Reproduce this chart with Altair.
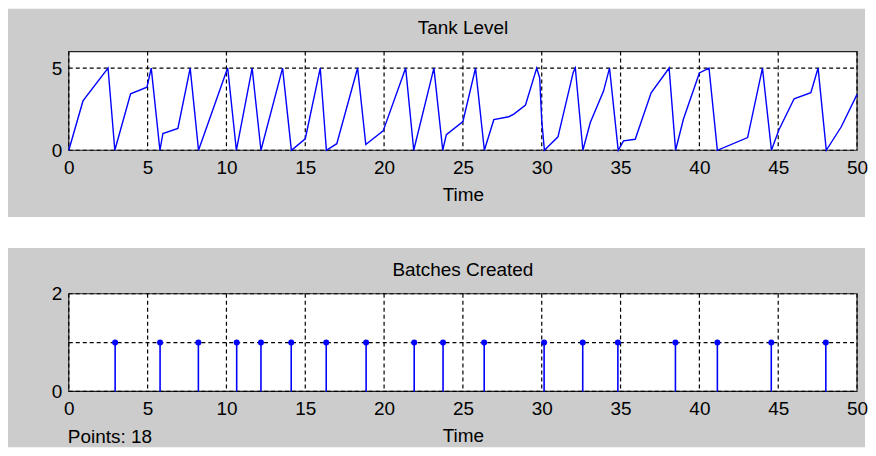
import altair as alt
import pandas as pd

# ---- data ----
tank_time = [0.0, 0.9, 2.49, 2.92, 3.92, 4.96, 5.23, 5.78, 5.97, 6.92, 7.7, 8.23,
             10.0, 10.08, 10.63, 11.63, 12.19, 13.56, 14.12, 15.0, 15.95, 16.34,
             17.0, 18.32, 18.84, 19.94, 21.37, 21.88, 23.16, 23.72, 23.95, 25.0,
             25.8, 26.36, 26.96, 27.91, 28.23, 28.97, 29.68, 29.87, 30.0, 30.17,
             31.03, 32.0, 32.13, 32.61, 33.08, 33.92, 34.3, 34.85, 35.19, 35.93,
             36.94, 38.08, 38.49, 38.99, 40.0, 40.61, 41.14, 43.06, 44.0, 44.57,
             45.04, 46.01, 47.07, 47.53, 48.05, 49.0, 50.0]
tank_level = [0.0, 3.0, 5.0, 0.0, 3.43, 3.84, 5.0, 0.0, 1.02, 1.33, 5.0, 0.0,
              4.8, 5.0, 0.0, 5.0, 0.0, 5.0, 0.0, 0.7, 5.0, 0.0,
              0.4, 5.0, 0.35, 1.18, 5.0, 0.0, 5.0, 0.0, 0.95, 1.75,
              5.0, 0.0, 1.86, 2.04, 2.2, 2.75, 5.0, 4.4, 1.8, 0.0,
              0.82, 4.75, 5.0, 0.0, 1.69, 3.6, 5.0, 0.0, 0.57, 0.67,
              3.5, 5.0, 0.0, 1.9, 4.7, 5.0, 0.0, 0.77, 5.0, 0.0,
              1.23, 3.13, 3.5, 5.0, 0.0, 1.43, 3.4]

batch_time = [2.94, 5.79, 8.22, 10.65, 12.19, 14.11, 16.33, 18.86, 21.91, 23.74,
              26.35, 30.15, 32.6, 34.83, 38.48, 41.14, 44.56, 48.02]
batch_count = [1, 1, 1, 1, 1, 1, 1, 1, 1, 1, 1, 1, 1, 1, 1, 1, 1, 1]

x_ticks = [0, 5, 10, 15, 20, 25, 30, 35, 40, 45, 50]
tank_y_ticks = [0, 5]
batch_y_ticks = [0, 1, 2]

# ---- style ----
W = 791
H1 = 99
H2 = 98
FONT = "Liberation Sans"
FS = 19
PANEL = "#cccccc"
BLUE = "#0000ff"
LEFT = -61
RIGHT = 799

one = pd.DataFrame({"k": [0]})


def axis_x():
    return alt.Axis(values=x_ticks, labelFont=FONT, labelFontSize=FS, labelColor="black",
                    titleFont=FONT, titleFontSize=FS, titleFontWeight="normal",
                    titleColor="black", domain=False, ticks=False, grid=False,
                    labelPadding=8, titlePadding=8, labelFlush=False, format="d", zindex=1)


def axis_y(vals):
    return alt.Axis(values=vals, labelFont=FONT, labelFontSize=FS, labelColor="black",
                    title=None, domain=False, ticks=False, grid=False, format="d",
                    labelPadding=7, zindex=1)


def panel(title, H, ydom, yticks, gray_top, gray_bottom, main_layers, extra=None):
    xenc = alt.X("time:Q", scale=alt.Scale(domain=[0, 50], nice=False, zero=False),
                 axis=axis_x(), title="Time")
    yenc = alt.Y("value:Q", scale=alt.Scale(domain=ydom, nice=False), axis=axis_y(yticks))

    gray = alt.Chart(one).mark_rect(fill=PANEL).encode(
        x=alt.value(LEFT), x2=alt.value(RIGHT), y=alt.value(gray_top), y2=alt.value(gray_bottom))
    box = alt.Chart(one).mark_rect(fill="white", stroke="#222222", strokeWidth=1.2).encode(
        x=alt.value(0), x2=alt.value(W), y=alt.value(0), y2=alt.value(H))
    xgrid = alt.Chart(pd.DataFrame({"time": x_ticks})).mark_rule(
        color="black", strokeWidth=1.2, strokeDash=[4, 3]).encode(
        x=xenc, y=alt.value(0), y2=alt.value(H))
    ygrid = alt.Chart(pd.DataFrame({"value": yticks})).mark_rule(
        color="black", strokeWidth=1.2, strokeDash=[4, 3]).encode(
        y=yenc, x=alt.value(0), x2=alt.value(W))
    title_text = alt.Chart(pd.DataFrame({"label": [title]})).mark_text(
        align="center", baseline="middle", font=FONT, fontSize=FS, color="black").encode(
        text="label:N", x=alt.value(W / 2), y=alt.value(-24))

    layers = [gray, box, xgrid, ygrid] + main_layers(xenc, yenc) + [title_text]
    if extra is not None:
        layers.append(extra)
    return alt.layer(*layers).properties(width=W, height=H)


tank_df = pd.DataFrame({"time": tank_time, "value": tank_level})
batch_df = pd.DataFrame({"time": batch_time, "value": batch_count})


def tank_layers(xenc, yenc):
    return [alt.Chart(tank_df).mark_line(color=BLUE, strokeWidth=1.4).encode(x=xenc, y=yenc)]


def batch_layers(xenc, yenc):
    stems = alt.Chart(batch_df).mark_rule(color=BLUE, strokeWidth=1.6).encode(
        x=xenc, y=yenc, y2=alt.datum(0))
    heads = alt.Chart(batch_df).mark_point(filled=True, size=36, color=BLUE, opacity=1).encode(
        x=xenc, y=yenc)
    return [stems, heads]


points_df = pd.DataFrame({"label": [f"Points: {len(batch_time)}"]})
points_text = alt.Chart(points_df).mark_text(
    align="left", baseline="middle", font=FONT, fontSize=FS, color="black").encode(
    text="label:N", x=alt.value(-1), y=alt.value(H2 + 46))

top = panel("Tank Level", H1, [0, 6], tank_y_ticks, -43, 166, tank_layers)
bottom = panel("Batches Created", H2, [0, 2], batch_y_ticks, -46, 154, batch_layers, points_text)

chart = alt.vconcat(top, bottom, spacing=31).properties(
    padding=0, background="white"
).configure_view(strokeWidth=0)

chart.save("out.html", embed_options={"renderer": "svg", "actions": False})
